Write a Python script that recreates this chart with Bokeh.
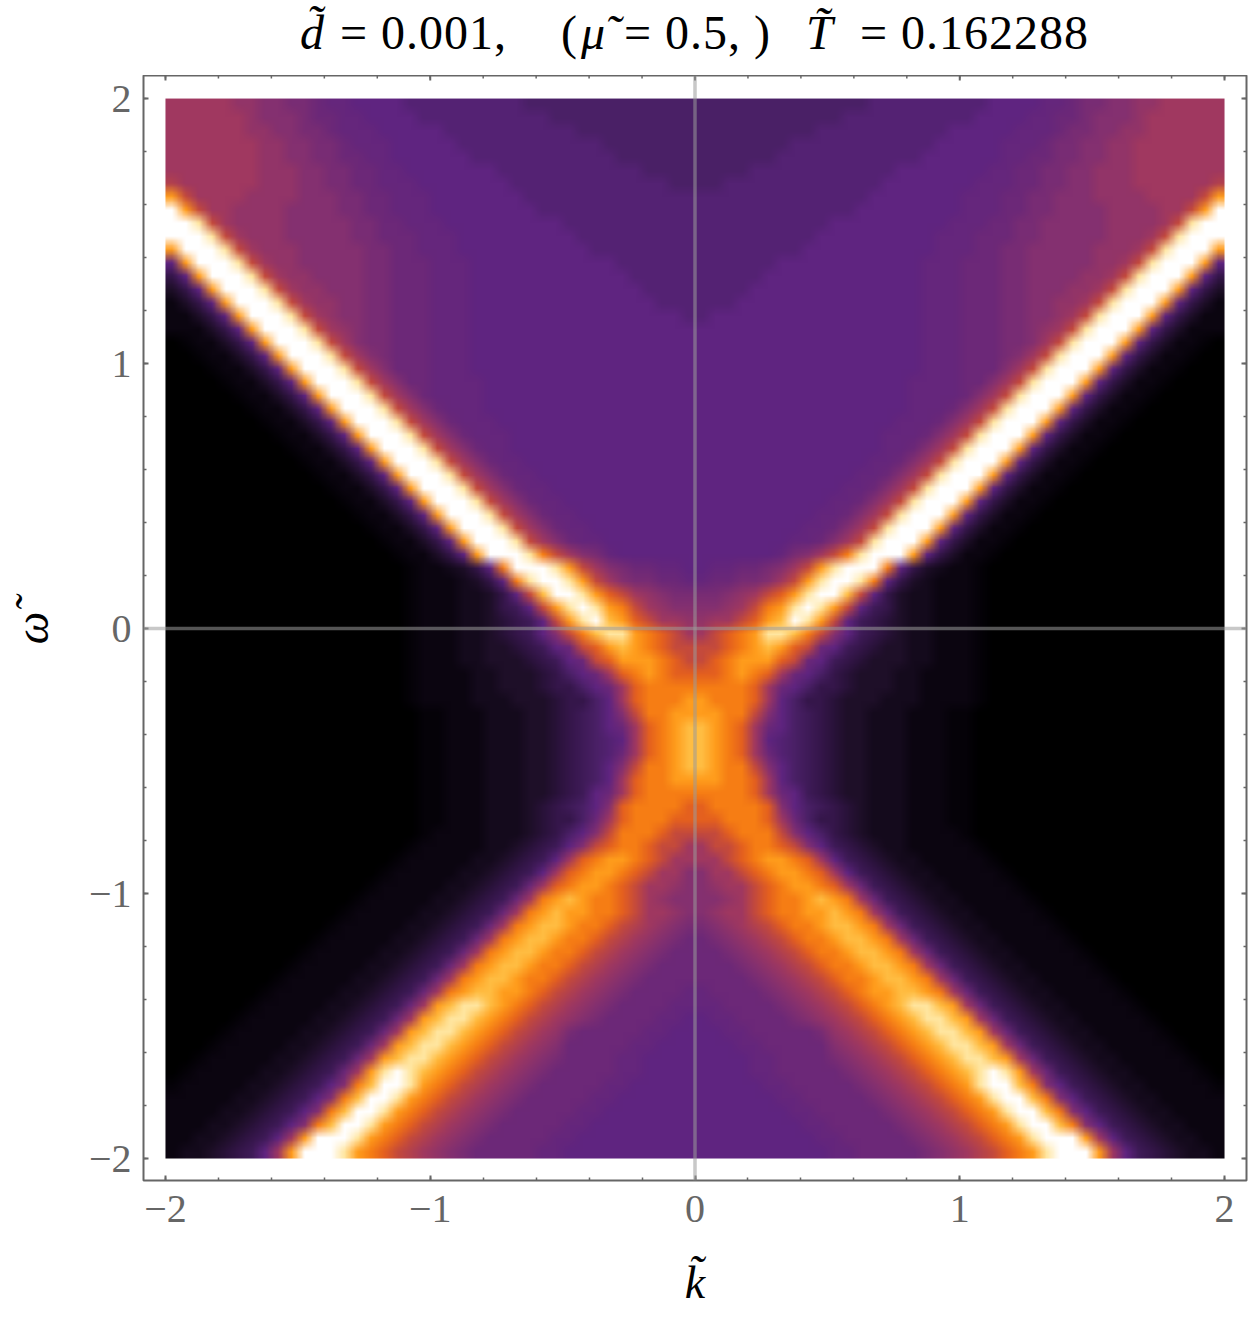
import numpy as np
from bokeh.plotting import figure
from bokeh.layouts import column
from bokeh.models import FixedTicker, Span, Div, LinearColorMapper
from bokeh.embed import file_html
from bokeh.resources import INLINE

TITLE_PARTS = ["d\u0303", "= 0.001,", "(", "\u03bc\u0303", "= 0.5, )", "T\u0303", "= 0.162288"]
X_LABEL = "k\u0303"
Y_LABEL = "\u03c9\u0303"
MAJOR_TICKS = [-2, -1, 0, 1, 2]
MINOR_TICKS = [-2.0, -1.8, -1.6, -1.4, -1.2, -1.0, -0.8, -0.6, -0.4, -0.2, 0.0,
               0.2, 0.4, 0.6, 0.8, 1.0, 1.2, 1.4, 1.6, 1.8, 2.0]
TICK_LABELS = {-2: "\u22122", -1: "\u22121", 0: "0", 1: "1", 2: "2"}

# intensity levels, k >= 0 half (the map mirrors in k),
# one row per omega from +1.975 down to -1.975, one column per k from 0.025 to 1.975.
# 0..f are whole levels; k l m n g h i j o are the half levels .5 above 0 1 2 3 4 5 6 7 8
INTENSITY_ROWS = [
    "4444444444 444ggggggg gg5555hh6i i77jj88888",
    "4444444444 4ggggggggg g5555hh66i 777j888888",
    "444444444g ggggggggg5 5555hhh6ii 77jj888888",
    "4444444ggg gggggggg55 555hhh6ii7 7jj8888888",
    "444444gggg ggggggg555 555hh66ii7 7jj8888888",
    "4444gggggg ggggg55555 55hh66ii77 jjj8888888",
    "44gggggggg gggg555555 5hhh66ii77 jjj888888o",
    "gggggggggg ggg5555555 hhh66ii777 jjjj88889c",
    "gggggggggg gg55555555 hhh66ii777 7jjjj889cf",
    "gggggggggg 555555555h hh66ii7777 7jjjj89eff",
    "ggggggggg5 55555555hh h666ii7777 7jjj89efff",
    "gggggggg55 55555555hh h66ii77777 jjj89efffc",
    "gggggg5555 5555555hhh 666ii77777 jj89efffc5",
    "ggggg55555 5555555hhh 666ii7777j j89efffc53",
    "gggg555555 5555555hhh 666ii777jj 89efffc532",
    "ggg5555555 5555555hhh 666ii77jj8 9efffc5321",
    "g555555555 5555555hhh 666ii77j89 efffc53211",
    "5555555555 5555555hhh 666ii7j89e fffc532111",
    "5555555555 5555555hhh 666ii789ef ffc53211k0",
    "5555555555 5555555hhh 666i789eff fc53211k00",
    "5555555555 5555555hhh 666789efff c53211k000",
    "5555555555 555555hhhh 66789efffc 53211k0000",
    "5555555555 555555hhhh 6789efffc5 3211k00000",
    "5555555555 555555hhh6 789efffc53 211k000000",
    "5555555555 55555hhh67 89efffc532 11k0000000",
    "5555555555 5555hhh678 9efffc5321 1k00000000",
    "5555555555 5555hh6789 efffc53211 k000000000",
    "5555555555 555hh6789e fffc53211k 0000000000",
    "5555555555 55hh6789ef ffc53211k0 0000000000",
    "5555555555 5hh6789eff fc53211k00 0000000000",
    "5555555555 hh6789efff c53211k000 0000000000",
    "555555555h h6789efffc 53211k0000 0000000000",
    "55555555hh 6789efffc5 3211k00000 0000000000",
    "5555555hh6 789efffc53 211k000000 0000000000",
    "555555hi78 9befffc532 11k0000000 0000000000",
    "5hh66i789c efffb532l1 1k00000000 0000000000",
    "h66ii789ce ffeb532l11 1k00000000 0000000000",
    "ii7j89acef fd9532ll11 1k00000000 0000000000",
    "77j89bcefe c95n32ll11 1k00000000 0000000000",
    "j889acdfec 95n3m2ll11 1k00000000 0000000000",
    "89abceedb9 75n3m2ll11 1k00000000 0000000000",
    "99abcdca96 5n3m22ll11 1k00000000 0000000000",
    "9abccca965 n3m222ll11 1k00000000 0000000000",
    "aabcba8654 3m222ll111 1k00000000 0000000000",
    "bbbba86543 3m222ll111 1k00000000 0000000000",
    "cbbba85433 m222lll111 1k00000000 0000000000",
    "ccbb9754n3 m22lll111k k000000000 0000000000",
    "dcba8654n3 m22lll111k k000000000 0000000000",
    "dcba85g4n3 m22lll111k k000000000 0000000000",
    "dcba86g4n3 m22lll111k k000000000 0000000000",
    "dcbb9754n3 m22lll111k k000000000 0000000000",
    "ccbba854n3 m22lll111k k000000000 0000000000",
    "bbbba865n3 m22lll111k k000000000 0000000000",
    "abbbba754n 3m2lll111k k000000000 0000000000",
    "aabbba8643 3m2lll111k k000000000 0000000000",
    "99abbb9754 3m2lll1111 k000000000 0000000000",
    "899abba975 n3m2ll1111 1k00000000 0000000000",
    "889abccba8 5n3m2ll111 11k0000000 0000000000",
    "7889abccba 85n3m2ll11 111k000000 0000000000",
    "7j889abccb a86n3m2ll1 1111k00000 0000000000",
    "77j89abbcd cb86n3m2ll 11111k0000 0000000000",
    "7j889abbcc dcb86n3m2l l11111k000 0000000000",
    "i7j8o9abbc ddcb86n3m2 ll11111k00 0000000000",
    "6i7j8o9abb cddcb86n3m 2ll11111k0 0000000000",
    "66i7j8o9ab bcddcb86n3 m2ll11111k 0000000000",
    "666i7j8o9a bbcddcb86n 3m2ll11111 k000000000",
    "6666i7j8o9 abbcddcb86 n3m2ll1111 1k00000000",
    "h6666i7j8o 9abccddcb8 6n3m2ll111 11k0000000",
    "hh6666i7j8 o9abcdeedc 86n3m2ll11 111k000000",
    "5hh6666i7j 8o9abcdeed c86n3m2ll1 1111k00000",
    "55hh66666i j8o9abcdee dc86n3m2ll 11111k0000",
    "555hh66666 7j8o9abcde edc86n3m2l l11111k000",
    "5555hh6666 i7j8o9abcd eedc86n3m2 ll11111k00",
    "5555hh6666 6i7j8o9abc defec86n3m 2ll11111k0",
    "55555hh666 66i7j8o9ab ceffdb75n3 m2ll11111k",
    "555555hh66 666i7j8o9a bceffdb75n 3m2ll11111",
    "5555555hh6 6666i7j8o9 abceffdb75 n3m2ll1111",
    "55555555hh 66666i7j8o 9abceffdb7 5n3m2ll111",
    "555555555h h66666i7j8 o9abcefffc 85n3m2ll11",
    "5555555555 hh66666i7j 8o9abcefff c85n3m2ll1",
]
HALF_LEVELS = {"k": 0.5, "l": 1.5, "m": 2.5, "n": 3.5, "g": 4.5, "h": 5.5, "i": 6.5, "j": 7.5, "o": 8.5}

LEVEL_COLORS = ["#000000", "#0b0510", "#1e0f28", "#35164a", "#4a2066", "#5f2480",
                "#6c2878", "#843070", "#a03860", "#c44a3c", "#e4601f", "#f67d14",
                "#ff9c1c", "#ffbd42", "#ffe6a0", "#ffffff"]

def level(c):
    return HALF_LEVELS[c] if c in HALF_LEVELS else int(c, 16)

half = [[level(c) for c in r.replace(" ", "")] for r in INTENSITY_ROWS]
for n, r in enumerate(half):
    if len(r) != 40:
        raise ValueError(f"row {n} has {len(r)} cells")
grid = np.array([r[::-1] + r for r in half], dtype=float)[::-1]

# palette with a colour for every half level
rgb = np.array([[int(c[i:i + 2], 16) for i in (1, 3, 5)] for c in LEVEL_COLORS], dtype=float)
palette = []
for a in range(len(rgb) - 1):
    palette.append("#%02x%02x%02x" % tuple(int(v) for v in rgb[a]))
    palette.append("#%02x%02x%02x" % tuple(int(v) for v in (rgb[a] + rgb[a + 1]) / 2))
palette.append("#ffffff")

FIG_W, TITLE_H, FIG_H = 1248, 75, 1240
p = figure(width=FIG_W, height=FIG_H, x_range=(-2.083, 2.083), y_range=(-2.083, 2.087),
           output_backend="svg", toolbar_location=None,
           min_border_left=143, min_border_right=2, min_border_top=0, min_border_bottom=135,
           background_fill_color="white", border_fill_color="white", margin=(0, 0, 0, 0))
p.xgrid.visible = False
p.ygrid.visible = False
p.outline_line_color = "#666666"
p.outline_line_width = 2

mapper = LinearColorMapper(palette=palette, low=-0.25, high=15.25)
p.image(image=[grid], x=-2, y=-2, dw=4, dh=4, color_mapper=mapper)

GREY = "#666666"
ticker = FixedTicker(ticks=MAJOR_TICKS, minor_ticks=MINOR_TICKS)

for ax in (p.xaxis[0], p.yaxis[0]):
    ax.ticker = ticker
    ax.axis_line_color = None
    ax.major_tick_line_color = GREY
    ax.minor_tick_line_color = GREY
    ax.major_tick_line_width = 2
    ax.minor_tick_line_width = 1.5
    ax.major_tick_in = 5
    ax.major_tick_out = 0
    ax.minor_tick_in = 3
    ax.minor_tick_out = 0
    ax.major_label_overrides = TICK_LABELS
    ax.major_label_text_font = "Liberation Serif"
    ax.major_label_text_font_size = "40px"
    ax.major_label_text_color = GREY
    ax.axis_label_text_font = "Liberation Serif"
    ax.axis_label_text_font_style = "italic"
    ax.axis_label_text_font_size = "46px"
    ax.axis_label_text_color = "black"
p.xaxis[0].major_label_standoff = 15
p.yaxis[0].major_label_standoff = 12
p.yaxis[0].major_label_orientation = "horizontal"
p.xaxis[0].axis_label = X_LABEL
p.yaxis[0].axis_label = Y_LABEL
p.xaxis[0].axis_label_standoff = 32
p.yaxis[0].axis_label_standoff = 28

# inward ticks on the top and right frame edges
Y_TOP, X_RIGHT = 2.087, 2.083
MAJ_LEN, MIN_LEN = 5 / 265.0, 3 / 265.0
p.segment(x0=MAJOR_TICKS, y0=[Y_TOP] * 5, x1=MAJOR_TICKS, y1=[Y_TOP - MAJ_LEN] * 5, line_color=GREY, line_width=2)
p.segment(x0=MINOR_TICKS, y0=[Y_TOP] * 21, x1=MINOR_TICKS, y1=[Y_TOP - MIN_LEN] * 21, line_color=GREY, line_width=1.5)
p.segment(x0=[X_RIGHT] * 5, y0=MAJOR_TICKS, x1=[X_RIGHT - MAJ_LEN] * 5, y1=MAJOR_TICKS, line_color=GREY, line_width=2)
p.segment(x0=[X_RIGHT] * 21, y0=MINOR_TICKS, x1=[X_RIGHT - MIN_LEN] * 21, y1=MINOR_TICKS, line_color=GREY, line_width=1.5)

for dim in ("width", "height"):
    p.add_layout(Span(location=0, dimension=dim, line_color="#9b9b9b", line_alpha=0.55, line_width=3.5))

# title: upright and italic pieces side by side, as real text
title_x = [300, 340, 561, 581, 624, 806, 860]
title_style = ["italic", "normal", "normal", "italic", "normal", "italic", "normal"]
spans = "".join(
    f'<span style="position:absolute;left:{x0}px;top:-1px;font-style:{st};white-space:nowrap;'
    f'letter-spacing:1px">{txt}</span>'
    for txt, x0, st in zip(TITLE_PARTS, title_x, title_style)
)
title = Div(text=spans, width=FIG_W, height=TITLE_H, margin=(0, 0, 0, 0),
            styles={"font-family": "Liberation Serif", "font-size": "48px", "color": "black"})

# the cell picture is upscaled by the browser: keep its smoothing on
KEEP_SMOOTHING = """<script>
Object.defineProperty(CanvasRenderingContext2D.prototype, 'imageSmoothingEnabled',
  {configurable: true, get: function () { return true; }, set: function (v) {}});
</script>"""

html = file_html(column(title, p, spacing=0), INLINE)
html = html.replace("<head>", "<head>" + KEEP_SMOOTHING, 1)
open("out.html", "w").write(html)
